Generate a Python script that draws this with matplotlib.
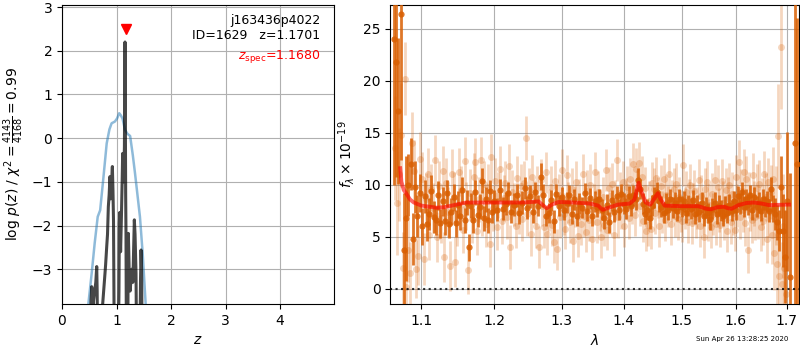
import numpy as np
import matplotlib
matplotlib.use("Agg")
import matplotlib.pyplot as plt
from matplotlib.ticker import FixedLocator, FixedFormatter, NullLocator

# ---------------- left panel: p(z) ----------------
z_fit = [0.40, 0.483, 0.545, 0.60, 0.655, 0.70, 0.76, 0.82, 0.87, 0.91, 0.97, 1.01,
         1.05, 1.08, 1.11, 1.156, 1.20, 1.25, 1.30, 1.34, 1.43, 1.48, 1.535, 1.60]
logp_fit = [-6.0, -3.8, -3.09, -2.4, -1.8, -1.65, -0.9, -0.12, 0.2, 0.34, 0.38, 0.45,
            0.57, 0.52, 0.45, 0.19, 0.1, 0.05, -0.4, -0.81, -1.8, -2.64, -3.8, -6.0]

z_full = [0.50, 0.53, 0.545, 0.555, 0.57, 0.60, 0.62, 0.637, 0.645, 0.66, 0.72, 0.746,
          0.789, 0.80, 0.82, 0.835, 0.85, 0.865, 0.88, 0.895, 0.91, 0.924, 0.935, 0.945,
          0.965, 1.02, 1.045, 1.052, 1.06, 1.075, 1.09, 1.105, 1.113, 1.13, 1.145, 1.156,
          1.162, 1.168, 1.174, 1.185, 1.20, 1.217, 1.225, 1.235, 1.25, 1.28, 1.30, 1.315,
          1.327, 1.34, 1.358, 1.375, 1.42, 1.44, 1.45, 1.46, 1.48, 1.52]
logp_full = [-6.0, -3.8, -3.4, -3.6, -3.8, -3.5, -3.3, -2.94, -3.5, -6.0, -6.0, -3.8,
             -3.09, -2.9, -2.49, -2.2, -1.57, -1.3, -0.88, -1.39, -1.0, -0.65, -1.2, -1.9,
             -6.0, -6.0, -3.5, -1.95, -1.7, -2.6, -1.8, -0.9, -0.35, -1.0, -0.2, 2.2,
             0.5, -1.3, -2.18, -6.0, -6.0, -2.18, -2.6, -3.2, -3.5, -3.0, -3.3, -2.5,
             -1.87, -2.2, -3.1, -6.0, -6.0, -3.3, -2.56, -3.0, -6.0, -6.0]

z_best = 1.1701
z_spec = 1.1680
obj_name = "j163436p4022"
obj_id = 1629

x_ticks_l = [0, 1, 2, 3, 4]
y_ticks_l = [-3, -2, -1, 0, 1, 2, 3]

# ---------------- right panel: spectrum ----------------
dark_wave = [1.064, 1.067, 1.070, 1.074, 1.077, 1.080, 1.083, 1.086, 1.089, 1.091,
             1.094, 1.098, 1.101, 1.104, 1.107, 1.110, 1.113, 1.116, 1.119, 1.122,
             1.125, 1.128, 1.131, 1.134, 1.137, 1.140, 1.143, 1.146, 1.149, 1.152,
             1.155, 1.158, 1.161, 1.164, 1.167, 1.170, 1.173, 1.176, 1.179, 1.182,
             1.185, 1.188, 1.191, 1.194, 1.197, 1.200, 1.204, 1.208, 1.212, 1.216,
             1.220, 1.224, 1.228, 1.232, 1.236, 1.240, 1.244, 1.248, 1.252, 1.256,
             1.260, 1.264, 1.268, 1.272, 1.276, 1.280, 1.284, 1.288, 1.292, 1.296,
             1.300, 1.304, 1.308, 1.312, 1.316, 1.320, 1.324, 1.328, 1.332, 1.336,
             1.340, 1.344, 1.348, 1.352, 1.356, 1.360, 1.364, 1.368, 1.372, 1.376,
             1.380, 1.384, 1.388, 1.392, 1.396, 1.400, 1.404, 1.408, 1.412, 1.416,
             1.420, 1.424, 1.428, 1.432, 1.436, 1.440, 1.444, 1.448, 1.452, 1.456,
             1.460, 1.464, 1.468, 1.472, 1.476, 1.480, 1.484, 1.488, 1.492, 1.496,
             1.500, 1.504, 1.508, 1.512, 1.516, 1.520, 1.524, 1.528, 1.532, 1.536,
             1.540, 1.544, 1.548, 1.552, 1.556, 1.560, 1.564, 1.568, 1.572, 1.576,
             1.580, 1.584, 1.588, 1.592, 1.596, 1.600, 1.604, 1.608, 1.612, 1.616,
             1.620, 1.624, 1.628, 1.632, 1.636, 1.640, 1.644, 1.648, 1.652, 1.656,
             1.660, 1.664, 1.668, 1.672, 1.676, 1.680, 1.684, 1.6885, 1.693, 1.697,
             1.700, 1.7066, 1.7175, 1.722]
dark_flux = [24.0, 21.8, 17.1, 26.4, 3.7, 6.8, 10.0, 12.0, 4.8, 9.8,
             7.0, 9.2, 6.0, 8.9, 6.2, 7.2, 9.4, 6.9, 6.6, 9.0,
             6.3, 8.4, 6.5, 9.2, 6.2, 7.4, 8.8, 6.3, 8.1, 7.0,
             9.5, 6.6, 8.3, 4.0, 8.0, 6.6, 9.3, 7.1, 7.9, 10.4,
             6.8, 8.6, 6.6, 9.4, 7.4, 8.4, 7.6, 9.5, 7.7, 8.2,
             9.2, 7.4, 8.1, 9.0, 7.3, 8.3, 9.7, 7.8, 8.9, 7.4,
             9.3, 8.0, 10.8, 9.0, 7.0, 7.3, 8.5, 6.5, 9.1, 8.0,
             8.8, 7.6, 8.3, 9.0, 7.2, 8.6, 7.0, 8.2, 7.8, 9.2,
             7.5, 8.7, 7.0, 8.4, 7.9, 8.6, 7.6, 6.8, 8.1, 6.4,
             8.5, 7.4, 8.9, 7.6, 9.1, 8.2, 7.7, 8.9, 8.0, 9.0,
             8.6, 10.5, 9.6, 8.2, 7.2, 7.6, 6.8, 8.0, 8.8, 9.3,
             8.4, 7.9, 7.3, 8.2, 7.6, 8.6, 7.8, 8.3, 7.5, 8.6,
             7.9, 8.4, 7.3, 8.0, 7.7, 8.5, 7.2, 8.0, 7.4, 8.3,
             7.0, 7.8, 7.3, 6.7, 7.7, 8.3, 7.2, 8.0, 7.5, 7.0,
             7.9, 7.3, 8.1, 7.5, 8.4, 7.6, 8.9, 8.2, 9.3, 7.9,
             8.6, 8.1, 9.0, 7.6, 8.8, 7.9, 8.3, 7.5, 8.6, 7.9,
             8.4, 7.5, 9.6, 7.7, 7.2, 6.4, 5.6, 9.8, 5.6, 3.1,
             8.4, 1.15, 14.0, 12.0]
dark_err = [14.0, 11.0, 7.0, 14.0, 5.5, 6.0, 3.0, 2.5, 2.5, 2.5,
            2.0, 1.8, 1.8, 1.6, 1.6, 1.5, 1.5, 1.5, 1.4, 1.4,
            1.4, 1.4, 1.3, 1.3, 1.3, 1.3, 1.3, 1.3, 1.3, 1.3,
            1.3, 1.2, 1.2, 1.3, 1.2, 1.2, 1.2, 1.2, 1.2, 1.2,
            1.2, 1.2, 1.2, 1.1, 1.1, 1.1, 1.1, 1.1, 1.1, 1.1,
            1.1, 1.1, 1.1, 1.1, 1.1, 1.1, 1.1, 1.1, 1.1, 1.1,
            1.0, 1.0, 1.3, 1.1, 1.0, 1.0, 1.0, 1.1, 1.0, 1.0,
            1.0, 1.0, 1.0, 1.0, 1.0, 1.0, 1.0, 1.0, 1.0, 1.0,
            1.0, 1.0, 1.0, 1.0, 1.0, 1.0, 1.0, 1.0, 1.0, 1.0,
            1.0, 1.0, 1.0, 1.0, 1.0, 1.0, 1.0, 1.0, 1.0, 1.0,
            1.0, 1.1, 1.0, 1.0, 1.0, 1.0, 1.0, 1.0, 1.0, 1.0,
            1.0, 1.0, 1.0, 1.0, 1.0, 1.0, 1.0, 1.0, 1.0, 1.0,
            1.0, 1.0, 1.0, 1.0, 1.0, 1.0, 1.0, 1.0, 1.0, 1.0,
            1.0, 1.0, 1.0, 1.0, 1.0, 1.0, 1.0, 1.0, 1.0, 1.0,
            1.0, 1.0, 1.0, 1.0, 1.0, 1.0, 1.0, 1.0, 1.0, 1.0,
            1.0, 1.0, 1.0, 1.0, 1.0, 1.0, 1.0, 1.0, 1.0, 1.0,
            1.0, 1.1, 1.2, 1.3, 1.5, 1.7, 2.0, 3.0, 3.5, 4.5,
            6.7, 10.0, 20.0, 14.0]

light_wave = [1.0655, 1.068, 1.0705, 1.073, 1.0755, 1.078, 1.0805, 1.083, 1.0855, 1.088,
              1.0905, 1.093, 1.0955, 1.098, 1.1005, 1.103, 1.1055, 1.108, 1.1105, 1.113,
              1.1155, 1.118, 1.1205, 1.123, 1.1255, 1.128, 1.1305, 1.133, 1.1355, 1.138,
              1.1405, 1.143, 1.1455, 1.148, 1.1505, 1.153, 1.1555, 1.158, 1.1605, 1.163,
              1.1655, 1.168, 1.1705, 1.173, 1.1755, 1.178, 1.1805, 1.183, 1.1855, 1.188,
              1.1905, 1.193, 1.1955, 1.198, 1.2005, 1.203, 1.2055, 1.208, 1.2105, 1.213,
              1.2155, 1.218, 1.2205, 1.223, 1.2255, 1.228, 1.2305, 1.233, 1.2355, 1.238,
              1.2405, 1.243, 1.2455, 1.248, 1.2505, 1.253, 1.2555, 1.258, 1.2605, 1.263,
              1.2655, 1.268, 1.2705, 1.273, 1.2755, 1.278, 1.2805, 1.283, 1.2855, 1.288,
              1.2905, 1.293, 1.2955, 1.298, 1.3005, 1.303, 1.3055, 1.308, 1.3105, 1.313,
              1.3155, 1.318, 1.3205, 1.323, 1.3255, 1.328, 1.3305, 1.333, 1.3355, 1.338,
              1.3405, 1.343, 1.3455, 1.348, 1.3505, 1.353, 1.3555, 1.358, 1.3605, 1.363,
              1.3655, 1.368, 1.3705, 1.373, 1.3755, 1.378, 1.3805, 1.383, 1.3855, 1.388,
              1.3905, 1.393, 1.3955, 1.398, 1.4005, 1.403, 1.4055, 1.408, 1.4105, 1.413,
              1.4155, 1.418, 1.4205, 1.423, 1.4255, 1.428, 1.4305, 1.433, 1.4355, 1.438,
              1.4405, 1.443, 1.4455, 1.448, 1.4505, 1.453, 1.4555, 1.458, 1.4605, 1.463,
              1.4655, 1.468, 1.4705, 1.473, 1.4755, 1.478, 1.4805, 1.483, 1.4855, 1.488,
              1.4905, 1.493, 1.4955, 1.498, 1.5005, 1.503, 1.5055, 1.508, 1.5105, 1.513,
              1.5155, 1.518, 1.5205, 1.523, 1.5255, 1.528, 1.5305, 1.533, 1.5355, 1.538,
              1.5405, 1.543, 1.5455, 1.548, 1.5505, 1.553, 1.5555, 1.558, 1.5605, 1.563,
              1.5655, 1.568, 1.5705, 1.573, 1.5755, 1.578, 1.5805, 1.583, 1.5855, 1.588,
              1.5905, 1.593, 1.5955, 1.598, 1.6005, 1.603, 1.6055, 1.608, 1.6105, 1.613,
              1.6155, 1.618, 1.6205, 1.623, 1.6255, 1.628, 1.6305, 1.633, 1.6355, 1.638,
              1.6405, 1.643, 1.6455, 1.648, 1.6505, 1.653, 1.6555, 1.658, 1.6605, 1.663,
              1.6655, 1.668, 1.6705, 1.673, 1.6755, 1.678, 1.6805, 1.683, 1.6855, 1.688,
              1.6905, 1.693, 1.6955, 1.698]
light_flux = [13.5, 8.3, 11.0, 14.8, 2.0, 20.2, 0.2, 3.7, 1.5, 14.0,
              11.3, 1.9, 3.2, 12.5, 10.6, 2.9, 8.6, 11.0, 5.2, 9.6,
              7.8, 12.4, 5.0, 9.9, 6.8, 11.3, 3.1, 10.2, 7.4, 2.2,
              11.0, 8.8, 2.6, 6.4, 11.2, 9.5, 5.7, 12.3, 8.0, 1.8,
              9.2, 6.7, 10.8, 12.2, 5.6, 8.6, 12.4, 7.3, 10.1, 6.2,
              9.8, 4.3, 12.7, 7.8, 10.4, 5.9, 9.0, 11.5, 6.5, 8.7,
              10.2, 6.9, 11.8, 4.0, 9.3, 8.1, 6.0, 10.7, 7.4, 9.9,
              6.7, 10.2, 14.5, 7.2, 9.5, 5.3, 10.8, 8.4, 6.0, 9.7,
              4.0, 10.5, 8.0, 5.9, 11.2, 5.3, 7.6, 9.8, 6.1, 4.5,
              10.4, 3.8, 9.0, 6.9, 11.4, 7.2, 5.8, 10.9, 8.3, 6.4,
              9.6, 4.6, 7.9, 10.3, 5.1, 8.6, 6.2, 11.0, 7.0, 5.5,
              9.4, 6.6, 10.0, 4.8, 8.1, 11.2, 6.4, 9.3, 7.6, 5.0,
              8.8, 6.1, 11.4, 5.7, 9.7, 7.3, 10.1, 5.2, 8.5, 12.4,
              6.9, 9.2, 7.8, 10.3, 6.0, 8.7, 9.8, 6.8, 10.6, 8.2,
              12.0, 7.1, 11.5, 9.4, 12.1, 8.0, 10.8, 6.5, 9.7, 5.6,
              6.1, 8.4, 5.8, 10.2, 9.6, 7.3, 10.7, 8.8, 6.0, 9.9,
              7.4, 10.6, 6.6, 9.0, 7.9, 11.0, 6.2, 8.5, 9.6, 7.0,
              10.1, 6.7, 8.8, 7.5, 6.5, 11.9, 7.8, 9.3, 6.4, 8.6,
              10.0, 6.3, 8.2, 9.4, 6.9, 7.8, 10.5, 6.0, 8.9, 7.3,
              5.0, 9.6, 10.3, 6.6, 8.1, 5.9, 9.1, 7.2, 10.5, 6.2,
              9.8, 7.6, 6.1, 10.4, 8.3, 6.8, 9.5, 5.6, 8.7, 10.0,
              6.4, 9.1, 7.3, 5.7, 10.8, 8.0, 12.2, 6.9, 9.4, 7.6,
              11.2, 6.3, 10.6, 3.7, 9.0, 7.8, 6.6, 10.9, 8.2, 6.9,
              9.7, 7.1, 10.1, 5.9, 8.4, 6.5, 11.0, 8.8, 4.8, 10.3,
              7.4, 9.3, 5.2, 10.6, 3.4, 8.0, 2.4, 14.7, 1.2, 23.3,
              0.5, 6.0, 2.0, -0.5]
light_err = [5.0, 5.0, 4.5, 5.0, 3.5, 3.5, 3.5, 3.0, 3.0, 3.0,
             3.0, 2.8, 2.8, 2.6, 2.6, 2.5, 2.5, 2.5, 2.4, 2.4,
             2.4, 2.4, 2.4, 2.4, 2.4, 2.4, 2.4, 2.4, 2.4, 2.4,
             2.4, 2.4, 2.4, 2.3, 2.3, 2.3, 2.3, 2.3, 2.3, 2.3,
             2.3, 2.3, 2.3, 2.3, 2.3, 2.2, 2.2, 2.2, 2.2, 2.2,
             2.2, 2.2, 2.2, 2.2, 2.2, 2.2, 2.2, 2.2, 2.2, 2.2,
             2.1, 2.1, 2.1, 2.1, 2.1, 2.1, 2.1, 2.1, 2.1, 2.1,
             2.1, 2.1, 2.1, 2.1, 2.1, 2.1, 2.1, 2.1, 2.1, 2.1,
             2.0, 2.0, 2.0, 2.0, 2.0, 2.0, 2.0, 2.0, 2.0, 2.0,
             2.0, 2.0, 2.0, 2.0, 2.0, 2.0, 2.0, 2.0, 2.0, 2.0,
             2.0, 2.0, 2.0, 2.0, 2.0, 2.0, 2.0, 2.0, 2.0, 2.0,
             2.0, 2.0, 2.0, 2.0, 2.0, 2.0, 2.0, 2.0, 2.0, 2.0,
             2.0, 2.0, 2.0, 2.0, 2.0, 2.0, 2.0, 2.0, 2.0, 2.0,
             2.0, 2.0, 2.0, 2.0, 2.0, 2.0, 2.0, 2.0, 2.0, 2.0,
             2.0, 2.0, 2.0, 2.0, 2.0, 2.0, 2.0, 2.0, 2.0, 2.0,
             2.0, 2.0, 2.0, 2.0, 2.0, 2.0, 2.0, 2.0, 2.0, 2.0,
             2.0, 2.0, 2.0, 2.0, 2.0, 2.0, 2.0, 2.0, 2.0, 2.0,
             2.0, 2.0, 2.0, 2.0, 2.0, 2.0, 2.0, 2.0, 2.0, 2.0,
             2.0, 2.0, 2.0, 2.0, 2.0, 2.0, 2.0, 2.0, 2.0, 2.0,
             2.0, 2.0, 2.0, 2.0, 2.0, 2.0, 2.0, 2.0, 2.0, 2.0,
             2.1, 2.1, 2.1, 2.1, 2.1, 2.1, 2.1, 2.1, 2.1, 2.1,
             2.1, 2.1, 2.1, 2.1, 2.1, 2.1, 2.1, 2.1, 2.1, 2.1,
             2.2, 2.2, 2.2, 2.2, 2.2, 2.2, 2.2, 2.2, 2.2, 2.2,
             2.3, 2.3, 2.3, 2.3, 2.3, 2.3, 2.3, 2.3, 2.3, 2.3,
             2.4, 2.6, 2.8, 3.0, 3.5, 3.8, 4.0, 5.0, 5.0, 6.0,
             4.0, 5.0, 6.0, 8.0]

model_wave = [1.0725, 1.074, 1.077, 1.080, 1.085, 1.090, 1.100, 1.110, 1.120, 1.130,
              1.140, 1.160, 1.200, 1.240, 1.265, 1.272, 1.277, 1.285, 1.295, 1.320,
              1.345, 1.358, 1.365, 1.375, 1.390, 1.410, 1.418, 1.425, 1.430, 1.437,
              1.445, 1.452, 1.458, 1.463, 1.470, 1.500, 1.530, 1.545, 1.553, 1.565,
              1.578, 1.585, 1.592, 1.605, 1.620, 1.635, 1.650, 1.665, 1.700, 1.705]
model_flux = [11.6, 10.3, 9.5, 9.2, 8.6, 8.3, 8.0, 7.9, 7.8, 7.85,
              8.0, 8.3, 8.3, 8.3, 8.4, 8.0, 7.75, 8.1, 8.35, 8.3,
              8.2, 8.0, 7.6, 7.8, 8.1, 8.2, 8.6, 10.2, 9.3, 8.3,
              8.1, 8.7, 9.2, 8.6, 8.0, 7.95, 7.95, 7.7, 7.65, 7.85,
              7.9, 7.75, 7.7, 8.05, 8.25, 8.3, 8.2, 8.05, 8.1, 8.1]

x_ticks_r = [1.1, 1.2, 1.3, 1.4, 1.5, 1.6, 1.7]
x_ticklabels_r = ["1.1", "1.2", "1.3", "1.4", "1.5", "1.6", "1.7"]
y_ticks_r = [0, 5, 10, 15, 20, 25]
timestamp = "Sun Apr 26 13:28:25 2020"

# ---------------- figure ----------------
orange = "#d95f02"
fig = plt.figure(figsize=(8, 3.5), dpi=100)
axl = fig.add_axes([0.0775, 0.131, 0.34, 0.855])
axr = fig.add_axes([0.488, 0.131, 0.511, 0.855])

axl.plot(z_fit, logp_fit, color="#1f77b4", alpha=0.5, lw=1.8, zorder=3)
axl.plot(z_full, logp_full, color="k", alpha=0.72, lw=2.2, zorder=4)
axl.plot([z_spec], [2.5], marker="v", color="red", ms=7, ls="none", zorder=5)
axl.set_xlim(0, 4.99)
axl.set_ylim(-3.8, 3.05)
axl.set_xticks(x_ticks_l)
axl.set_yticks(y_ticks_l)
axl.grid(True, color="#b0b0b0", lw=0.8)
axl.set_axisbelow(True)
axl.set_xlabel(r"$z$", fontsize=10)
axl.set_ylabel(r"log $p(z)$ / $\chi^2=\frac{4143}{4168}=0.99$", fontsize=10)
axl.text(0.95, 0.97, "%s\nID=%d   z=%.4f" % (obj_name, obj_id, z_best),
         transform=axl.transAxes, ha="right", va="top", fontsize=9, linespacing=1.25)
axl.text(0.95, 0.855, r"$z_\mathrm{spec}$=%.4f" % z_spec, transform=axl.transAxes,
         ha="right", va="top", fontsize=9, color="red")

axr.set_xscale("log")
axr.errorbar(light_wave, light_flux, yerr=light_err, fmt="o", color=orange, alpha=0.25,
             ms=5, elinewidth=2, mew=0, zorder=2)
axr.errorbar(dark_wave, dark_flux, yerr=dark_err, fmt="o", color=orange, alpha=0.85,
             ms=4.5, elinewidth=2, mew=0, zorder=3)
axr.plot(model_wave, model_flux, color="red", lw=2.8, alpha=0.6, zorder=4)
axr.axhline(0, color="k", ls=":", lw=1.5, alpha=0.8, zorder=5)
axr.set_xlim(1.060, 1.7256)
axr.set_ylim(-1.47, 27.3)
axr.xaxis.set_major_locator(FixedLocator(x_ticks_r))
axr.xaxis.set_major_formatter(FixedFormatter(x_ticklabels_r))
axr.xaxis.set_minor_locator(NullLocator())
axr.set_yticks(y_ticks_r)
axr.grid(True, color="#b0b0b0", lw=0.8)
axr.set_axisbelow(True)
axr.set_xlabel(r"$\lambda$", fontsize=10)
axr.set_ylabel(r"$f_\lambda\times10^{-19}$", fontsize=10)

fig.text(0.985, 0.022, timestamp, ha="right", va="bottom", fontsize=5)

fig.savefig("out.png", dpi=100)
